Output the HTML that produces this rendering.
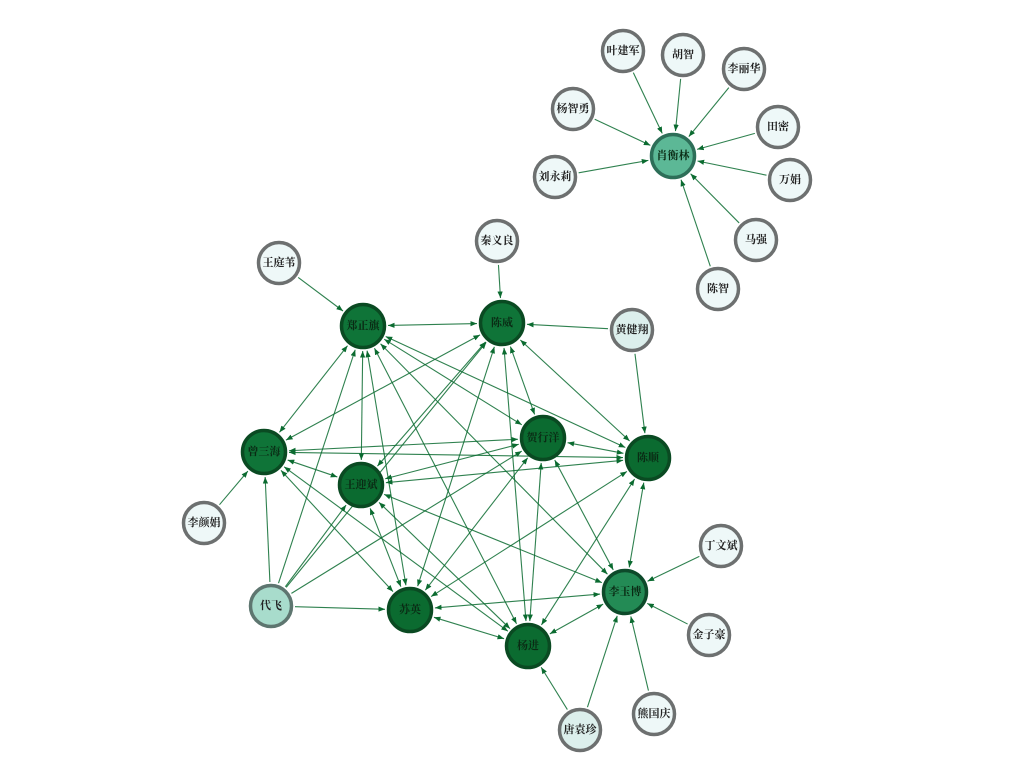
<!DOCTYPE html>
<html><head><meta charset="utf-8"><style>
html,body{margin:0;padding:0;background:#fff;width:1024px;height:768px;overflow:hidden}
svg text{font-family:"Liberation Serif","Noto Serif CJK SC",serif;font-size:11px;font-weight:bold;text-anchor:middle;dominant-baseline:central}
</style></head><body>
<svg id="s" width="1024" height="768" xmlns="http://www.w3.org/2000/svg">
<defs><marker id="a" viewBox="0 0 10 10" refX="10" refY="5" markerWidth="6" markerHeight="6" orient="auto-start-reverse"><path d="M0,1 L10,5 L0,9 z" fill="#0b6b30"/></marker></defs>
<g id="e"></g><g id="n"></g>
</svg>
<script>
var N={
"肖衡林":[673,156,23,"#5cb896","#2d6e58"],
"叶建军":[623,51,22],"胡智":[683,55,22],"李丽华":[744,69,22],"杨智勇":[573,109,22],"田密":[778,127,22],"刘永莉":[555,177,22],"万娟":[790,180,22],"马强":[756,240,22],"陈智":[718,289,22],
"郑正旗":[363,326,23,"#0f7438","#0a4a22"],"陈威":[502,323,23,"#0f7438","#0a4a22"],"黄健翔":[632,330,22,"#dcefec","#6d7070"],"秦义良":[497,241,22],"王庭苇":[279,263,22],
"曾三海":[264,452,23,"#0f7438","#0a4a22"],"贺行洋":[543,438,23,"#0b6b30","#0a4a22"],"陈顺":[648,458,23,"#0b6b30","#0a4a22"],"王迎斌":[361,485,23,"#0b6b30","#0a4a22"],"李颜娟":[204,523,22],
"代飞":[271,606,22,"#a8dccc","#5e7670"],"苏英":[410,610,23,"#0b6b30","#0a4a22"],"杨进":[528,646,23,"#0b6b30","#0a4a22"],"李玉博":[625,592,23,"#238b55","#0d4a2a"],
"丁文斌":[721,546,22],"金子豪":[709,635,22],"熊国庆":[654,714,22],"唐袁珍":[580,730,22,"#dcefec","#6d7070"]};
var one=[["叶建军","肖衡林"],["胡智","肖衡林"],["李丽华","肖衡林"],["杨智勇","肖衡林"],["田密","肖衡林"],["刘永莉","肖衡林"],["万娟","肖衡林"],["马强","肖衡林"],["陈智","肖衡林"],
["王庭苇","郑正旗"],["秦义良","陈威"],["黄健翔","陈威"],["黄健翔","陈顺"],["李颜娟","曾三海"],["丁文斌","李玉博"],["金子豪","李玉博"],["熊国庆","李玉博"],["唐袁珍","李玉博"],["唐袁珍","杨进"],
["代飞","郑正旗"],["代飞","陈威"],["代飞","曾三海"],["代飞","王迎斌"],["代飞","苏英"],["代飞","贺行洋"]];
var two=[["郑正旗","陈威"],["郑正旗","曾三海"],["郑正旗","王迎斌"],["郑正旗","苏英"],["郑正旗","杨进"],["郑正旗","陈顺"],["郑正旗","贺行洋"],["郑正旗","李玉博"],
["陈威","曾三海"],["陈威","王迎斌"],["陈威","贺行洋"],["陈威","陈顺"],["陈威","苏英"],["陈威","杨进"],
["曾三海","贺行洋"],["曾三海","陈顺"],["曾三海","王迎斌"],["曾三海","苏英"],["曾三海","杨进"],
["贺行洋","王迎斌"],["贺行洋","陈顺"],["贺行洋","苏英"],["贺行洋","杨进"],["贺行洋","李玉博"],
["陈顺","王迎斌"],["陈顺","苏英"],["陈顺","杨进"],["陈顺","李玉博"],
["王迎斌","苏英"],["王迎斌","李玉博"],["王迎斌","杨进"],["苏英","杨进"],["苏英","李玉博"],["杨进","李玉博"]];
var ns="http://www.w3.org/2000/svg",E=document.getElementById("e"),G=document.getElementById("n");
function line(a,b,both){var p=N[a],q=N[b],dx=q[0]-p[0],dy=q[1]-p[1],d=Math.hypot(dx,dy),ux=dx/d,uy=dy/d;
var l=document.createElementNS(ns,"line");
l.setAttribute("x1",p[0]+ux*(p[2]+2));l.setAttribute("y1",p[1]+uy*(p[2]+2));
l.setAttribute("x2",q[0]-ux*(q[2]+2));l.setAttribute("y2",q[1]-uy*(q[2]+2));
l.setAttribute("stroke","#0b6b30");l.setAttribute("stroke-width","1.1");l.setAttribute("stroke-opacity","0.85");
l.setAttribute("marker-end","url(#a)");if(both)l.setAttribute("marker-start","url(#a)");E.appendChild(l);}
one.forEach(function(x){line(x[0],x[1],false)});two.forEach(function(x){line(x[0],x[1],true)});
for(var k in N){var v=N[k],c=document.createElementNS(ns,"circle");
c.setAttribute("cx",v[0]);c.setAttribute("cy",v[1]);c.setAttribute("r",v[2]-1.5);
c.setAttribute("fill",v[3]||"#eef8f8");c.setAttribute("stroke",v[4]||"#6d7070");c.setAttribute("stroke-width","3.5");G.appendChild(c);
var t=document.createElementNS(ns,"text");t.setAttribute("x",v[0]);t.setAttribute("y",v[1]);
t.setAttribute("fill",(v[3]&&v[3]!="#dcefec"&&v[3]!="#a8dccc")?"#0a2a14":"#222");t.textContent=k;G.appendChild(t);}
</script>
</body></html>
